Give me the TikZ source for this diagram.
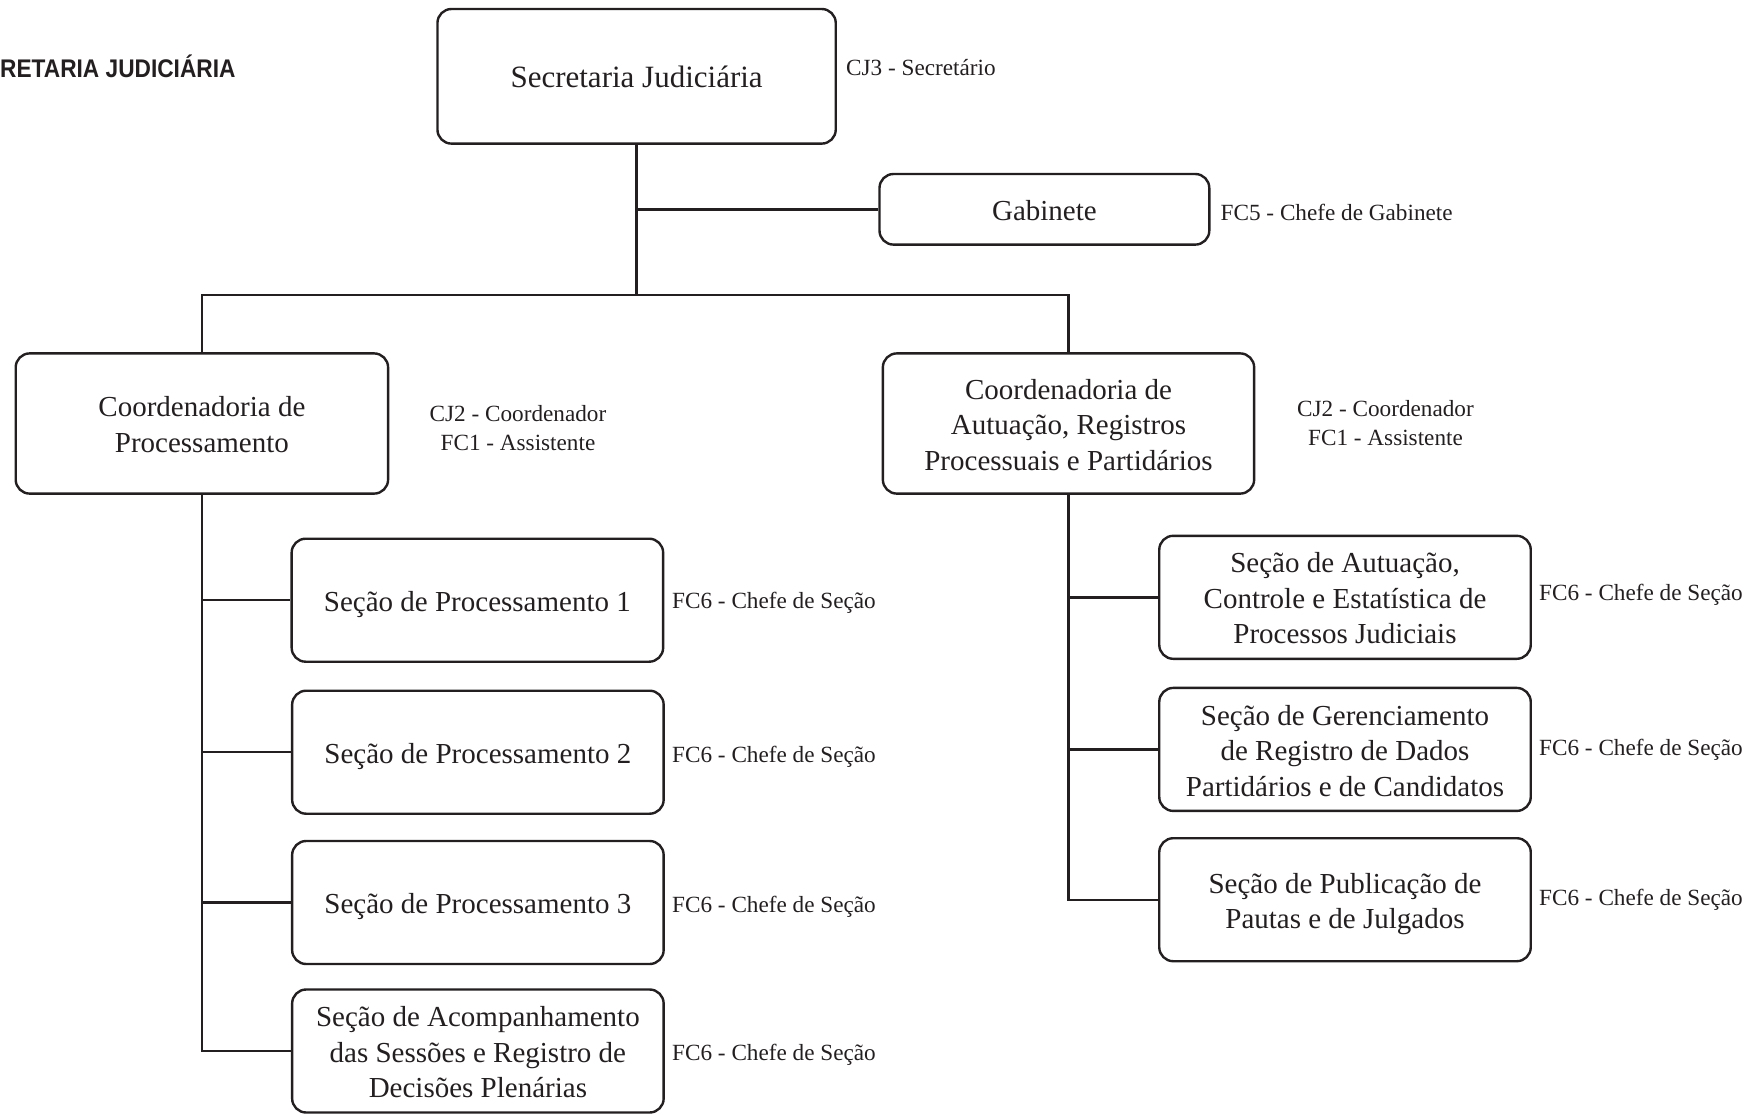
\documentclass[tikz,border=0pt]{standalone}
\usepackage{fontspec}
\setmainfont{Liberation Serif}
\setsansfont{Liberation Sans}
\definecolor{ink}{HTML}{231F20}
\newcommand{\bxtxt}[1]{\raisebox{-4pt}[\height][\depth]{\begin{tabular}{@{}c@{}}#1\end{tabular}}}
\begin{document}
\begin{tikzpicture}[x=1pt,y=-1pt,
  box/.style={draw=ink, line width=2.4pt, rounded corners=14pt, align=center, inner sep=0pt, text=ink, font=\fontsize{29}{35.5}\selectfont},
  secbox/.style={box, minimum width=371.5pt, minimum height=123pt},
  lbl/.style={inner sep=0pt, align=center, text=ink, font=\fontsize{23.2}{29}\selectfont},
  conn/.style={draw=ink, line width=2.4pt}]
\useasboundingbox (0,0) rectangle (1759,1114);
% title
\node[anchor=west, inner sep=0pt, text=ink, font=\sffamily\bfseries\fontsize{25.5}{30}\selectfont] (title) at (0,66) {\scalebox{0.89}[1]{RETARIA JUDICIÁRIA}};
% top
\node[box, minimum width=398.3pt, minimum height=134.6pt, font=\fontsize{31}{37}\selectfont] (sj) at (636.6,76.3) {\bxtxt{Secretaria Judiciária}};
\node[lbl, anchor=west] (sjl) at (846,68) {CJ3 - Secretário};
\node[box, minimum width=329.8pt, minimum height=70.6pt] (gab) at (1044.4,209.3) {\bxtxt{Gabinete}};
\node[lbl, anchor=west] (gabl) at (1220.5,212.5) {FC5 - Chefe de Gabinete};
% coordenadorias
\node[box, minimum width=372.4pt, minimum height=140.2pt] (cp) at (201.9,423.5) {\bxtxt{Coordenadoria de\\Processamento}};
\node[lbl] (cpl) at (518,428.5) {CJ2 - Coordenador\\FC1 - Assistente};
\node[box, minimum width=371.3pt, minimum height=140.2pt] (ca) at (1068.5,423.5) {\bxtxt{Coordenadoria de\\Autuação, Registros\\Processuais e Partidários}};
\node[lbl] (cal) at (1385.5,423) {CJ2 - Coordenador\\FC1 - Assistente};
% left sections
\node[secbox] (s1) at (477.4,600.2) {\bxtxt{Seção de Processamento 1}};
\node[secbox] (s2) at (477.9,752.2) {\bxtxt{Seção de Processamento 2}};
\node[secbox] (s3) at (477.9,902.5) {\bxtxt{Seção de Processamento 3}};
\node[secbox] (s4) at (477.9,1051) {\bxtxt{Seção de Acompanhamento\\das Sessões e Registro de\\Decisões Plenárias}};
\node[lbl, anchor=west] (s1l) at (672,602.5) {FC6 - Chefe de Seção};
\node[lbl, anchor=west] (s2l) at (672,756.5) {FC6 - Chefe de Seção};
\node[lbl, anchor=west] (s3l) at (672,906.5) {FC6 - Chefe de Seção};
\node[lbl, anchor=west] (s4l) at (672,1054.5) {FC6 - Chefe de Seção};
% right sections
\node[secbox] (r1) at (1345,597.3) {\bxtxt{Seção de Autuação,\\Controle e Estatística de\\Processos Judiciais}};
\node[secbox] (r2) at (1345,749.4) {\bxtxt{Seção de Gerenciamento\\de Registro de Dados\\Partidários e de Candidatos}};
\node[secbox] (r3) at (1345,899.7) {\bxtxt{Seção de Publicação de\\Pautas e de Julgados}};
\node[lbl, anchor=west] (r1l) at (1539,594.5) {FC6 - Chefe de Seção};
\node[lbl, anchor=west] (r2l) at (1539,749.5) {FC6 - Chefe de Seção};
\node[lbl, anchor=west] (r3l) at (1539,900) {FC6 - Chefe de Seção};
% connectors
\coordinate (bar) at (638.3,295);
\draw[conn] (sj.south) -- (sj.south |- bar);
\draw[conn] (sj.south |- gab.west) -- (gab.west);
\draw[conn] (cp.north) |- (bar) -| (ca.north);
\draw[conn] (cp.south) |- (s4.west);
\draw[conn] (cp.south |- s1.west) -- (s1.west);
\draw[conn] (cp.south |- s2.west) -- (s2.west);
\draw[conn] (cp.south |- s3.west) -- (s3.west);
\draw[conn] (ca.south) |- (r3.west);
\draw[conn] (ca.south |- r1.west) -- (r1.west);
\draw[conn] (ca.south |- r2.west) -- (r2.west);
\end{tikzpicture}
\end{document}
